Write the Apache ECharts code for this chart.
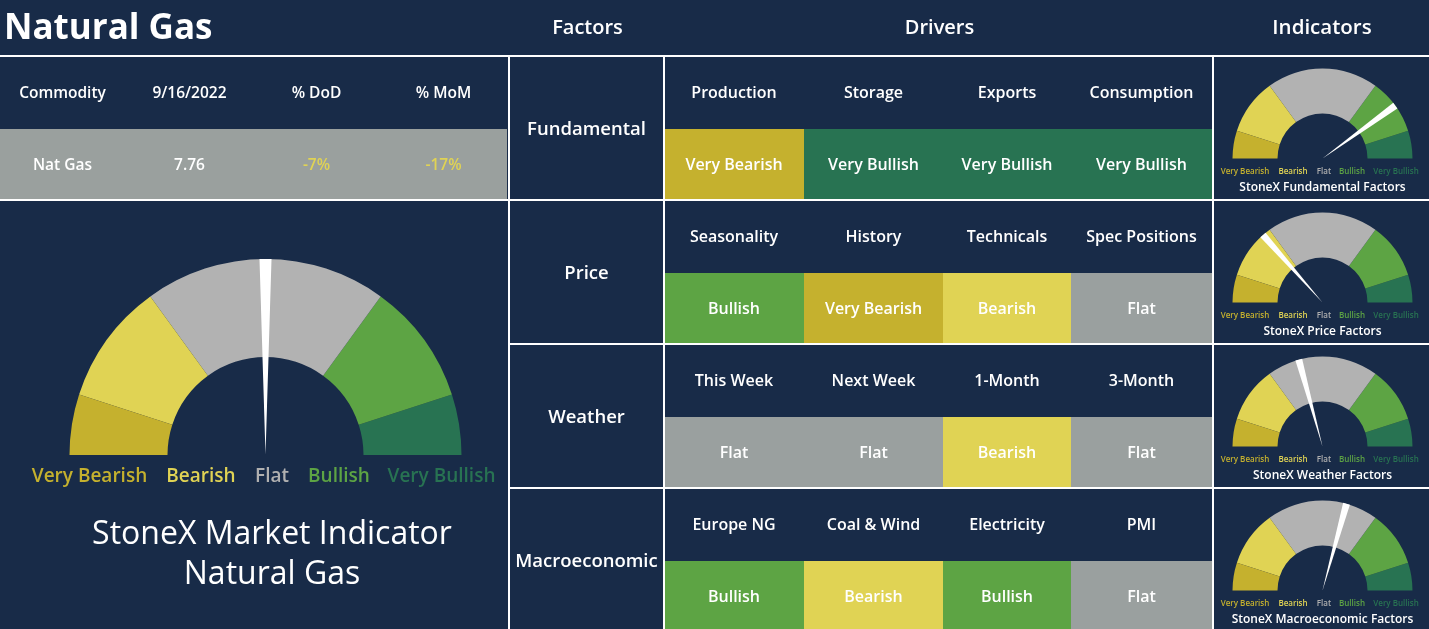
<!DOCTYPE html>
<html>
<head>
<meta charset="utf-8">
<script src="https://cdn.jsdelivr.net/npm/echarts@6/dist/echarts.min.js"></script>
<style>
html,body{margin:0;padding:0;background:#182B48;}
#chart{width:1429px;height:629px;}
</style>
</head>
<body>
<div id="chart"></div>
<script>
// ---------- DATA ----------
const pageTitle = 'Natural Gas';
const sectionTitles = ['Factors', 'Drivers', 'Indicators'];
const tableHeaders = ['Commodity', '9/16/2022', '% DoD', '% MoM'];
const tableRow = ['Nat Gas', '7.76', '-7%', '-17%'];
const factors = ['Fundamental', 'Price', 'Weather', 'Macroeconomic'];
const drivers = [
  ['Production', 'Storage', 'Exports', 'Consumption'],
  ['Seasonality', 'History', 'Technicals', 'Spec Positions'],
  ['This Week', 'Next Week', '1-Month', '3-Month'],
  ['Europe NG', 'Coal & Wind', 'Electricity', 'PMI']
];
const driverSignals = [
  ['Very Bearish', 'Very Bullish', 'Very Bullish', 'Very Bullish'],
  ['Bullish', 'Very Bearish', 'Bearish', 'Flat'],
  ['Flat', 'Flat', 'Bearish', 'Flat'],
  ['Bullish', 'Bearish', 'Bullish', 'Flat']
];
const signalLevels = ['Very Bearish', 'Bearish', 'Flat', 'Bullish', 'Very Bullish'];
const bandStops = [0.1, 0.3, 0.7, 0.9, 1.0];
const marketIndicatorValue = 50;
const indicatorValues = [80, 27, 41.5, 58.6];
const indicatorTitles = ['StoneX Fundamental Factors', 'StoneX Price Factors', 'StoneX Weather Factors', 'StoneX Macroeconomic Factors'];
const mainTitleLines = ['StoneX Market Indicator', 'Natural Gas'];

// ---------- STYLE ----------
const BG = '#182B48';
const LINE = '#FFFFFF';
const FONT = '"Open Sans", "Noto Sans", sans-serif';
const cellColors = {'Very Bearish':'#C5B12E','Bearish':'#E0D354','Flat':'#9AA09F','Bullish':'#5DA444','Very Bullish':'#287352'};
const gaugeColors = ['#C5B12E', '#E0D354', '#B2B2B2', '#5DA444', '#287352'];
const legendColors = ['#C5B12E', '#E0D354', '#B0B0B0', '#5DA444', '#287352'];
const pctColor = '#E0D354';

// ---------- LAYOUT ----------
const W = 1429, H = 629;
const headerH = 56;
const rowTop0 = 57, rowH = 144, subH = 72;
const xLeftEnd = 509, xFactorEnd = 664, xDriverEnd = 1213;
const driverCols = [664, 804, 943, 1071, 1212];
const leftColW = 127;
const dy = 1.5; // vertical text nudge

const g = [];
function rect(x, y, w, h, fill) {
  g.push({type:'rect', silent:true, shape:{x:x, y:y, width:w, height:h}, style:{fill:fill}});
}
function text(str, x, y, font, fill) {
  g.push({type:'text', silent:true, x:x, y:y + dy, style:{text:str, font:font, fill:fill, align:'center', verticalAlign:'middle'}});
}

// title & section headers
g.push({type:'text', silent:true, x:4, y:28 + dy, style:{text:pageTitle, font:'bold 35px ' + FONT, fill:'#FFFFFF', align:'left', verticalAlign:'middle'}});
text(sectionTitles[0], (xLeftEnd + xFactorEnd) / 2 + 1, 27, '600 20px ' + FONT, '#FFFFFF');
text(sectionTitles[1], (xFactorEnd + xDriverEnd) / 2 + 1, 27, '600 20px ' + FONT, '#FFFFFF');
text(sectionTitles[2], (xDriverEnd + W) / 2 + 1, 27, '600 20.5px ' + FONT, '#FFFFFF');

// left commodity table
rect(0, rowTop0 + subH, xLeftEnd - 2, subH - 1, '#9AA09E');
tableHeaders.forEach(function (h, i) {
  text(h, leftColW * i + leftColW / 2 - 1, rowTop0 + subH / 2 - 1, '600 15.5px ' + FONT, '#FFFFFF');
});
tableRow.forEach(function (v, i) {
  text(v, leftColW * i + leftColW / 2 - 1, rowTop0 + subH + subH / 2 - 1, '600 15.5px ' + FONT, i >= 2 ? pctColor : '#FFFFFF');
});

// factors & drivers
factors.forEach(function (f, r) {
  const top = rowTop0 + r * rowH;
  text(f, (xLeftEnd + xFactorEnd) / 2, top + subH - 1, '600 18.5px ' + FONT, '#FFFFFF');
  drivers[r].forEach(function (d, c) {
    const x0 = driverCols[c], x1 = driverCols[c + 1];
    rect(x0, top + subH, x1 - x0, subH - 1, cellColors[driverSignals[r][c]]);
    text(d, (x0 + x1) / 2, top + subH / 2 - 1, '600 16px ' + FONT, '#FFFFFF');
    text(driverSignals[r][c], (x0 + x1) / 2, top + subH + subH / 2 - 1, '600 16px ' + FONT, '#FFFFFF');
  });
});

// grid lines
rect(0, headerH - 1, W, 2, LINE);
rect(0, rowTop0 + rowH - 2, W, 2, LINE);
for (let r = 2; r < factors.length; r++) rect(xLeftEnd, rowTop0 + r * rowH - 2, W - xLeftEnd, 2, LINE);
[xLeftEnd, xFactorEnd, xDriverEnd].forEach(function (x) { rect(x - 1, headerH, 2, H - headerH, LINE); });

// main gauge legend & title
const mainC = [265.5, 455];
const mainLabelDx = [-176, -64.5, 6.5, 73.5, 176];
signalLevels.forEach(function (s, i) {
  text(s, mainC[0] + mainLabelDx[i], mainC[1] + 20, '600 19px ' + FONT, legendColors[i]);
});
text(mainTitleLines[0], 272, 533, '32px ' + FONT, '#FFFFFF');
text(mainTitleLines[1], 272, 573, '32px ' + FONT, '#FFFFFF');

// small gauges legends & titles
const smallCx = 1322.5;
const smallCy = function (r) { return 158.5 + r * rowH; };
const smallLabelDx = [-77.5, -29.5, 1.5, 29.5, 73.5];
indicatorTitles.forEach(function (t, r) {
  signalLevels.forEach(function (s, i) {
    text(s, smallCx + smallLabelDx[i], smallCy(r) + 11.5, '600 8px ' + FONT, legendColors[i]);
  });
  text(t, smallCx, smallCy(r) + 27.5, '600 12px ' + FONT, '#FFFFFF');
});

// ---------- GAUGES ----------
const bandColorStops = bandStops.map(function (s, i) { return [s, gaugeColors[i]]; });
const needlePath = 'path://M0,0 L10,0 L5,100 Z';
function gauge(center, radius, width, needleW, value) {
  return {
    type: 'gauge', center: center, radius: radius,
    startAngle: 180, endAngle: 0, min: 0, max: 100,
    axisLine: {lineStyle: {width: width, color: bandColorStops}},
    splitLine: {show: false}, axisTick: {show: false}, axisLabel: {show: false},
    pointer: {show: true, icon: needlePath, length: '100%', width: needleW, offsetCenter: [0, 0], itemStyle: {color: '#FFFFFF'}},
    anchor: {show: false}, title: {show: false}, detail: {show: false},
    animation: false,
    data: [{value: value}]
  };
}
const series = [gauge(mainC, 196, 98, 12, marketIndicatorValue)];
indicatorValues.forEach(function (v, r) {
  series.push(gauge([smallCx, smallCy(r)], 90, 45, 7, v));
});

const chart = echarts.init(document.getElementById('chart'));
chart.setOption({
  backgroundColor: BG,
  animation: false,
  graphic: {elements: g},
  series: series
});
</script>
</body>
</html>
